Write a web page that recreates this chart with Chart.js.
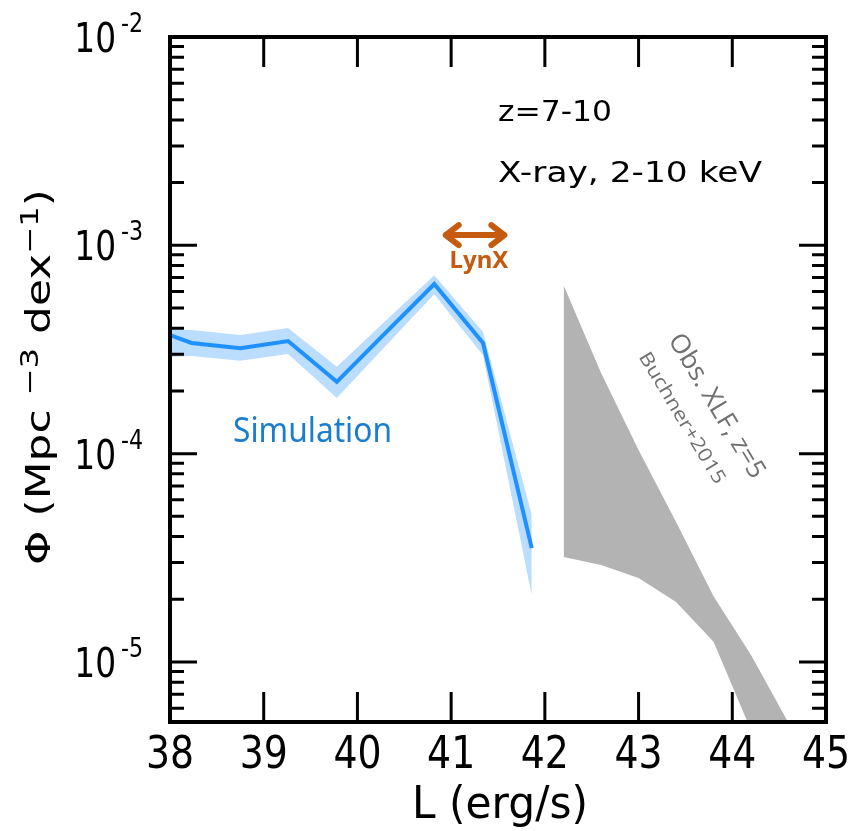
<!DOCTYPE html>
<html>
<head>
<meta charset="utf-8">
<script src="https://cdn.jsdelivr.net/npm/chart.js@4.4.0/dist/chart.umd.min.js"></script>
<style>
  html, body { margin: 0; padding: 0; background: #fff; }
</style>
</head>
<body>
<canvas id="xlf" width="864" height="831"></canvas>
<script>
// simulated X-ray luminosity function, z = 7-10 (log L in erg/s)
const simL   = [38.0, 38.23, 38.75, 39.26, 39.78, 40.31, 40.82, 41.34, 41.86];
const simPhi = [3.71e-4, 3.40e-4, 3.21e-4, 3.47e-4, 2.21e-4, 3.84e-4, 6.52e-4, 3.40e-4, 3.52e-5];
const simHi  = [3.96e-4, 3.92e-4, 3.71e-4, 4.01e-4, 2.61e-4, 4.38e-4, 7.19e-4, 3.84e-4, 5.07e-5];
const simLo  = [2.91e-4, 2.94e-4, 2.79e-4, 3.01e-4, 1.85e-4, 3.32e-4, 5.83e-4, 2.97e-4, 2.09e-5];

// observed XLF at z=5 (Buchner+2015), upper / lower envelope
const obsL  = [42.2, 42.6, 43.0, 43.4, 43.8, 44.2, 44.6];
const obsHi = [6.44e-4, 2.44e-4, 1.04e-4, 4.70e-5, 2.07e-5, 1.08e-5, 5.1e-6];
const obsLo = [3.19e-5, 2.92e-5, 2.53e-5, 1.94e-5, 1.25e-5, 4.7e-6, 2.4e-6];

// LynX sensitivity range
const lynxL = [40.91, 41.60];
const lynxPhi = 1.12e-3;

const xTicks = [38, 39, 40, 41, 42, 43, 44, 45];
const yDecades = [-5, -4, -3, -2];

const xMin = 38, xMax = 45;
const yMin = 5.15e-6, yMax = 1e-2;

const pts = (xs, ys) => xs.map((x, i) => ({ x: x, y: ys[i] }));

function drawText(ctx, s, x, y, o) {
    ctx.save();
    ctx.font = `${o.weight || 'normal'} ${o.size}px ${o.family || '"DejaVu Sans"'}`;
    ctx.fillStyle = o.color || '#000';
    ctx.textBaseline = 'alphabetic';
    ctx.textAlign = o.align || 'left';
    ctx.translate(x, y);
    if (o.rotate) ctx.rotate(o.rotate);
    let sx = o.sx || 1;
    if (o.width) sx = o.width / ctx.measureText(s).width;
    ctx.scale(sx, o.sy || 1);
    ctx.fillText(s, 0, 0);
    ctx.restore();
}

const framePlugin = {
    id: 'frame',
    afterDraw(chart) {
        const ctx = chart.ctx;
        const a = chart.chartArea;
        const xs = chart.scales.x, ys = chart.scales.y;

        ctx.save();
        ctx.strokeStyle = '#000';
        ctx.lineCap = 'butt';

        // x ticks, inside on top and bottom
        ctx.lineWidth = 3;
        xTicks.forEach(t => {
            const px = xs.getPixelForValue(t);
            ctx.beginPath();
            ctx.moveTo(px, a.bottom); ctx.lineTo(px, a.bottom - 30);
            ctx.moveTo(px, a.top); ctx.lineTo(px, a.top + 30);
            ctx.stroke();
        });

        // y ticks, log major + minor, inside on left and right
        for (let d = -6; d <= -2; d++) {
            for (let m = 1; m <= 9; m++) {
                const v = m * Math.pow(10, d);
                if (v < yMin || v > yMax) continue;
                const py = ys.getPixelForValue(v);
                const len = m === 1 ? 27 : 14;
                ctx.beginPath();
                ctx.moveTo(a.left, py); ctx.lineTo(a.left + len, py);
                ctx.moveTo(a.right, py); ctx.lineTo(a.right - len, py);
                ctx.stroke();
            }
        }

        ctx.lineWidth = 4;
        ctx.strokeRect(a.left, a.top, a.right - a.left, a.bottom - a.top);
        ctx.restore();

        // tick labels
        xTicks.forEach(t => {
            drawText(ctx, String(t), xs.getPixelForValue(t), 768, { size: 45, sx: 0.84, align: 'center' });
        });
        yDecades.forEach(d => {
            const py = ys.getPixelForValue(Math.pow(10, d));
            drawText(ctx, '10', 116, py + 15, { size: 40, sx: 0.82, align: 'right' });
            drawText(ctx, '-' + Math.abs(d), 121, py - 5, { size: 27, sx: 0.82 });
        });

        // axis titles
        drawText(ctx, 'L (erg/s)', 500, 818, { size: 44, width: 176, align: 'center' });

        ctx.save();
        ctx.translate(50, 377);
        ctx.rotate(-Math.PI / 2);
        const parts = [
            ['Φ (Mpc ', 38, 0],
            ['−3', 28, -14],
            [' dex', 38, 0],
            ['−1', 28, -14],
            [')', 38, 0]
        ];
        let total = 0;
        parts.forEach(p => {
            ctx.font = `${p[1]}px "DejaVu Sans"`;
            total += ctx.measureText(p[0]).width;
        });
        ctx.scale(376 / total, 0.88);
        let cx = -total / 2;
        ctx.fillStyle = '#000';
        parts.forEach(p => {
            ctx.font = `${p[1]}px "DejaVu Sans"`;
            ctx.fillText(p[0], cx, p[2]);
            cx += ctx.measureText(p[0]).width;
        });
        ctx.restore();

        // annotations
        drawText(ctx, 'z=7-10', 498, 121, { size: 28, width: 114 });
        drawText(ctx, 'X-ray, 2-10 keV', 498, 182, { size: 28, width: 264 });
        drawText(ctx, 'Simulation', 233, 442, { size: 34, family: '"Noto Sans"', width: 159, color: '#1a7dd0' });

        // LynX arrow
        const x0 = xs.getPixelForValue(lynxL[0]);
        const x1 = xs.getPixelForValue(lynxL[1]);
        const yA = ys.getPixelForValue(lynxPhi);
        const orange = '#c55a11';
        ctx.save();
        ctx.strokeStyle = orange;
        ctx.lineWidth = 6;
        ctx.lineCap = 'round';
        ctx.lineJoin = 'round';
        ctx.beginPath();
        ctx.moveTo(x0 + 3, yA); ctx.lineTo(x1 - 3, yA);
        ctx.moveTo(x0 + 16, yA - 10); ctx.lineTo(x0 + 3, yA); ctx.lineTo(x0 + 16, yA + 10);
        ctx.moveTo(x1 - 16, yA - 10); ctx.lineTo(x1 - 3, yA); ctx.lineTo(x1 - 16, yA + 10);
        ctx.stroke();
        ctx.restore();
        drawText(ctx, 'LynX', 479, 268, { size: 24, weight: 'bold', family: '"Noto Sans"', color: orange, align: 'center' });

        // observed band labels
        const ang = 59 * Math.PI / 180;
        drawText(ctx, 'Obs. XLF, z=5', 710, 410, { size: 26, family: '"Open Sans"', width: 164, color: '#707070', align: 'center', rotate: ang });
        drawText(ctx, 'Buchner+2015', 677, 421, { size: 19, family: '"Open Sans"', width: 150, color: '#707070', align: 'center', rotate: ang });
    }
};

new Chart(document.getElementById('xlf'), {
    type: 'line',
    data: {
        datasets: [
            {
                data: pts(simL, simPhi),
                borderColor: '#1e90ff',
                borderWidth: 4,
                pointRadius: 0,
                fill: false
            },
            {
                data: pts(simL, simHi),
                borderWidth: 0,
                pointRadius: 0,
                backgroundColor: 'rgb(187,221,255)',
                fill: '+1'
            },
            {
                data: pts(simL, simLo),
                borderWidth: 0,
                pointRadius: 0,
                fill: false
            },
            {
                data: pts(obsL, obsHi),
                borderWidth: 0,
                pointRadius: 0,
                backgroundColor: '#b3b3b3',
                fill: '+1'
            },
            {
                data: pts(obsL, obsLo),
                borderWidth: 0,
                pointRadius: 0,
                fill: false
            }
        ]
    },
    options: {
        responsive: false,
        animation: false,
        devicePixelRatio: 1,
        clip: 0,
        layout: { padding: { left: 170, right: 38, top: 37, bottom: 109 } },
        elements: { line: { tension: 0 } },
        plugins: { legend: { display: false }, tooltip: { enabled: false } },
        scales: {
            x: { type: 'linear', min: xMin, max: xMax, display: false },
            y: { type: 'logarithmic', min: yMin, max: yMax, display: false }
        }
    },
    plugins: [framePlugin]
});
</script>
</body>
</html>
